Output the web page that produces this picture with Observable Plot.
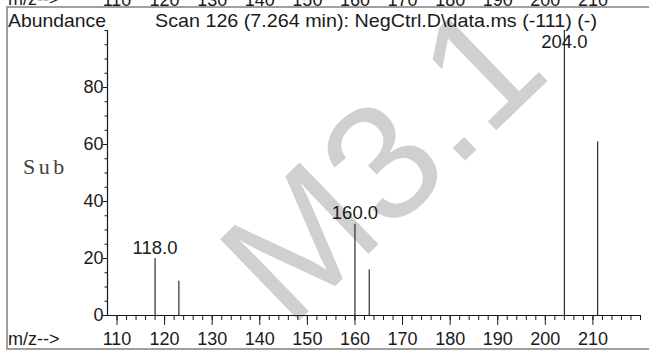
<!DOCTYPE html>
<html><head><meta charset="utf-8">
<script src="https://cdn.jsdelivr.net/npm/d3@7"></script>
<script src="https://cdn.jsdelivr.net/npm/@observablehq/plot@0.6"></script>
<style>
body{margin:0;background:#fff;}
#wrap{position:relative;width:649px;height:350px;overflow:hidden;background:#fff;}
#frame{position:absolute;left:6px;top:6px;width:700px;height:340px;border-left:2px solid #a0a0a0;border-top:2px solid #a0a0a0;border-bottom:2px solid #a0a0a0;pointer-events:none;}
</style></head><body><div id="wrap"><div id="frame"></div></div>
<script>
// ---- data ----
const mz = [118, 123, 160, 163, 204, 211];
const abundance = [20, 12, 32, 16, 100, 61];
const labeledPeaks = [118, 160, 204];
const xMajorTicks = [110, 120, 130, 140, 150, 160, 170, 180, 190, 200, 210];
const xMinorTicks = d3.range(110, 221, 2);
const yLabelTicks = [0, 20, 40, 60, 80];
const yMinorTicks = d3.range(0, 101, 5);
const xDomain = [108, 220];
const yDomain = [0, 100];
const yAxisTitle = "Abundance";
const chartTitle = "Scan 126 (7.264 min): NegCtrl.D\\data.ms (-111) (-)";
const xAxisTitle = "m/z-->";
const sideNote = "Sub";
const watermark = "M3.1";

const peaks = mz.map((m, i) => ({mz: m, abundance: abundance[i]}));
const labels = peaks.filter(d => labeledPeaks.includes(d.mz))
  .map(d => ({...d, text: d.mz.toFixed(1)}));

const ink = "#1a1a1a";
const font = "'Liberation Sans', Arial, sans-serif";
const plot = Plot.plot({
  width: 649, height: 350,
  marginLeft: 107, marginRight: 9, marginTop: 30, marginBottom: 35,
  style: {fontFamily: font, fontSize: "18px", color: ink, background: "transparent", overflow: "visible"},
  x: {domain: xDomain, axis: null},
  y: {domain: yDomain, axis: null},
  marks: [
    Plot.ruleY([yDomain[0]], {stroke: ink, strokeWidth: 1.2}),
    Plot.ruleX([xDomain[0]], {y1: yDomain[0], y2: yDomain[1], stroke: ink, strokeWidth: 1.2}),
    Plot.axisX(xMinorTicks, {anchor: "bottom", tickSize: 5, tickFormat: () => "", stroke: ink, label: null}),
    Plot.axisX(xMajorTicks, {anchor: "bottom", tickSize: 10, tickFormat: () => "", stroke: ink, label: null}),
    Plot.text(xMajorTicks, {x: d => d, text: d => String(d), frameAnchor: "bottom", lineAnchor: "top", dy: 17, fontSize: 18, fill: ink}),
    Plot.text(xMajorTicks, {x: d => d, text: d => String(d), frameAnchor: "top", lineAnchor: "bottom", dy: -25, fontSize: 18, fill: ink}),
    Plot.axisY(yMinorTicks, {anchor: "left", tickSize: 2.5, tickFormat: () => "", stroke: ink, label: null}),
    Plot.axisY(yLabelTicks, {anchor: "left", tickSize: 4, tickFormat: () => "", stroke: ink, label: null}),
    Plot.text(yLabelTicks, {y: d => d, text: d => String(d), frameAnchor: "left", textAnchor: "end", dx: -4, fontSize: 18, fill: ink}),
    Plot.ruleX(peaks, {x: "mz", y1: 0, y2: "abundance", stroke: ink, strokeWidth: 1.1}),
    Plot.text(labels, {x: "mz", y: d => Math.min(d.abundance, 92), text: "text", dy: -5, lineAnchor: "bottom", fontSize: 18.5, fill: ink})
  ]
});
document.getElementById("wrap").prepend(plot);

const svg = d3.select(plot);
// watermark behind everything
svg.insert("text", ":first-child")
  .attr("x", 380).attr("y", 160).attr("dy", "0.36em")
  .attr("text-anchor", "middle")
  .attr("transform", "rotate(-44 380 160)")
  .attr("font-family", font).attr("font-size", 165)
  .attr("fill", "#d0d0d0")
  .text(watermark);

const addText = (str, x, y, opts = {}) => {
  const t = svg.append("text")
    .attr("x", x).attr("y", y)
    .attr("text-anchor", "start")
    .attr("fill", opts.fill || ink)
    .attr("font-family", opts.family || font)
    .attr("font-size", opts.size || 18)
    .attr("letter-spacing", opts.spacing || 0)
    .text(str);
  if (opts.length) t.attr("textLength", opts.length).attr("lengthAdjust", "spacingAndGlyphs");
  return t;
};
addText(yAxisTitle, 8, 27, {size: 19, length: 98});
addText(chartTitle, 155, 27, {size: 19, length: 442});
addText(xAxisTitle, 8, 345);
addText(xAxisTitle, 8, 5);
addText(sideNote, 23, 174, {family: "'Liberation Serif', 'DejaVu Serif', serif", size: 22, fill: "#444", spacing: 3.5});
</script></body></html>
